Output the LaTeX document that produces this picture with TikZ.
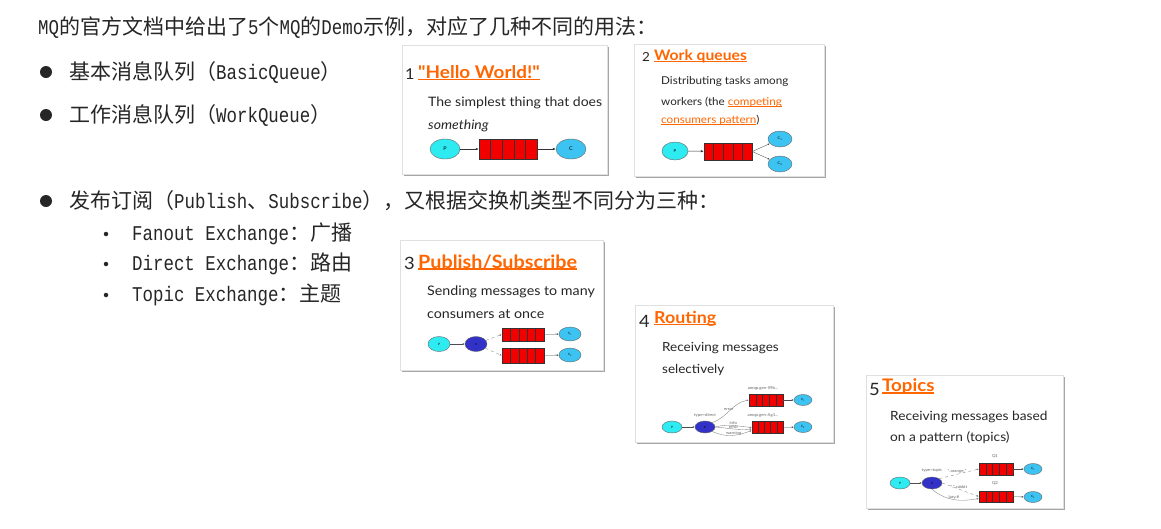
\documentclass[tikz,border=0pt]{standalone}
\usepackage{fontspec}
\usetikzlibrary{shapes.geometric,shadows,arrows.meta,calc}
\newfontfamily\cjk{Noto Sans CJK SC}
\newfontfamily\mono[FakeStretch=0.83]{Liberation Mono}
\newfontfamily\cardf[FakeStretch=1.08]{Lato}
\definecolor{txt}{HTML}{262626}
\definecolor{rmq}{HTML}{FF6600}
\definecolor{pcol}{HTML}{2EEBF2}
\definecolor{ccol}{HTML}{3DC3F2}
\definecolor{xcol}{HTML}{3232C8}
\definecolor{qred}{HTML}{F20000}
\newcommand\M[1]{{\mono#1}}
\newcommand\ul[2][0.8pt]{\setbox0\hbox{#2}\rlap{\rule[-1.6pt]{\wd0}{#1}}\box0}
\begin{document}
\begin{tikzpicture}[x=1pt,y=-1pt,
  maintext/.style={anchor=west, inner sep=0, text=txt, font=\fontsize{21}{25}\selectfont\cjk},
  bul/.style={circle, fill=txt, inner sep=0, minimum size=#1},
  card/.style={draw=black!12, fill=white, anchor=north west, inner sep=0,
    drop shadow={shadow xshift=1.5pt, shadow yshift=-2pt, fill=black, opacity=0.35}},
  num/.style={anchor=west, inner sep=0, text=txt, font=\cardf\fontsize{#1}{#1}\selectfont},
  title/.style={anchor=west, inner sep=0, text=rmq, font=\cardf\bfseries\fontsize{#1}{#1}\selectfont},
  body/.style={anchor=west, inner sep=0, text=txt, font=\cardf\fontsize{#1}{#1}\selectfont},
  pnode/.style={ellipse, draw=black!60, fill=pcol, inner sep=0, line width=0.4pt, font=\cardf\fontsize{#1}{#1}\selectfont},
  cnode/.style={ellipse, draw=black!60, fill=ccol, inner sep=0, line width=0.4pt, font=\cardf\fontsize{#1}{#1}\selectfont},
  xnode/.style={ellipse, draw=black!60, fill=xcol, inner sep=0, line width=0.4pt, font=\cardf\fontsize{#1}{#1}\selectfont},
  queue/.style={draw=black!80, fill=qred, inner sep=0, line width=0.5pt,
    path picture={\foreach \f in {0.2,0.4,0.6,0.8}{\draw[black!80, line width=0.5pt]
      ($(path picture bounding box.north west)!\f!(path picture bounding box.north east)$) --
      ($(path picture bounding box.south west)!\f!(path picture bounding box.south east)$);}}},
  arr/.style={-{Latex[length=3pt,width=2.5pt]}, line width=0.5pt, black!80},
  sarr/.style={-{Latex[length=2pt,width=1.8pt]}, line width=0.35pt, black!70},
  tiny/.style={inner sep=0, text=black!60, font=\cardf\fontsize{4}{4}\selectfont},
]
\useasboundingbox[fill=white] (0,0) rectangle (1161,528);

% main text
\node[maintext] (l0) at (38,28) {\M{MQ}的官方文档中给出了\M{5}个\M{MQ}的\M{Demo}示例，对应了几种不同的用法：};
\node[bul=12] (b1) at (46,72) {};
\node[maintext] (l1) at (69,72) {基本消息队列（\M{BasicQueue}）};
\node[bul=12] (b2) at (46,115) {};
\node[maintext] (l2) at (69,115) {工作消息队列（\M{WorkQueue}）};
\node[bul=12] (b3) at (46,201) {};
\node[maintext] (l3) at (69,201) {发布订阅（\M{Publish}、\M{Subscribe}），又根据交换机类型不同分为三种：};
\node[bul=4.5] (s1) at (106,234) {};
\node[maintext] (l4) at (132,234) {\M{Fanout Exchange}：广播};
\node[bul=4.5] (s2) at (106,264) {};
\node[maintext] (l5) at (132,264) {\M{Direct Exchange}：路由};
\node[bul=4.5] (s3) at (106,295) {};
\node[maintext] (l6) at (132,295) {\M{Topic Exchange}：主题};

% card 1
\node[card, minimum width=205, minimum height=129] (card1) at (402,45) {};
\node[num=15] (n1) at (405,74) {1};
\node[title=17.5] (t1) at (418,73) {\ul[1.2pt]{"Hello World!"}};
\node[body=13] (d1a) at (428,103) {The simplest thing that does};
\node[body=13] (d1b) at (428,126) {\itshape something};
\node[pnode=5, minimum width=30, minimum height=20] (p1) at (445,149) {P};
\node[queue, minimum width=58, minimum height=20] (q1) at (508,149) {};
\node[cnode=5, minimum width=30, minimum height=20] (c1) at (571,149) {C};
\draw[arr] (p1) -- (q1);
\draw[arr] (q1) -- (c1);

% card 2
\node[card, minimum width=190, minimum height=132] (card2) at (634,44) {};
\node[num=12.5] (n2) at (642,57) {2};
\node[title=14.5] (t2) at (654,56) {\ul[1pt]{Work queues}};
\node[body=10.8] (d2a) at (661,82) {Distributing tasks among};
\node[body=10.8] (d2b) at (661,102) {workers (the {\color{rmq}\ul[0.6pt]{competing}}};
\node[body=10.8] (d2c) at (661,120) {{\color{rmq}\ul[0.6pt]{consumers pattern}})};
\node[pnode=4, minimum width=26, minimum height=18] (p2) at (675,151) {P};
\node[queue, minimum width=48, minimum height=17] (q2) at (728,151.5) {};
\node[cnode=3.5, minimum width=24, minimum height=16] (c21) at (780,139) {C\textsubscript{1}};
\node[cnode=3.5, minimum width=24, minimum height=16] (c22) at (780,164) {C\textsubscript{2}};
\draw[arr] (p2) -- (q2);
\draw[sarr] (q2.east) -- (c21);
\draw[sarr] (q2.east) -- (c22);

% card 3
\node[card, minimum width=203, minimum height=130] (card3) at (400,240) {};
\node[num=17] (n3) at (404,263) {3};
\node[title=18.3] (t3) at (418,262) {\ul[1.2pt]{Publish/Subscribe}};
\node[body=13.2] (d3a) at (427,292) {Sending messages to many};
\node[body=13.2] (d3b) at (427,314) {consumers at once};
\node[pnode=3, minimum width=22, minimum height=15] (p3) at (439,344) {P};
\node[xnode=3, minimum width=22, minimum height=15] (x3) at (476,344) {X};
\node[queue, minimum width=42, minimum height=13] (q31) at (523,334.5) {};
\node[queue, minimum width=42, minimum height=15] (q32) at (523,355.5) {};
\node[cnode=3, minimum width=22, minimum height=14] (c31) at (570,334) {C\textsubscript{1}};
\node[cnode=3, minimum width=22, minimum height=14] (c32) at (570,355) {C\textsubscript{2}};
\draw[sarr] (p3) -- (x3);
\draw[sarr, dashed, black!50] (x3) -- (q31.west);
\draw[sarr, dashed, black!50] (x3) -- (q32.west);
\draw[sarr] (q31) -- (c31);
\draw[sarr] (q32) -- (c32);

% card 4
\node[card, minimum width=198, minimum height=137] (card4) at (635,305) {};
\node[num=17] (n4) at (639,321) {4};
\node[title=16.5] (t4) at (654,319) {\ul[1.2pt]{Routing}};
\node[body=12.5] (d4a) at (662,348) {Receiving messages};
\node[body=12.5] (d4b) at (662,370) {selectively};
\node[pnode=3, minimum width=20, minimum height=12] (p4) at (672,427) {P};
\node[xnode=3, minimum width=20, minimum height=12] (x4) at (705,427) {X};
\node[queue, minimum width=34, minimum height=12] (q41) at (766,400) {};
\node[queue, minimum width=31, minimum height=12] (q42) at (767.5,427.5) {};
\node[cnode=3, minimum width=18, minimum height=11] (c41) at (803,400) {C\textsubscript{1}};
\node[cnode=3, minimum width=18, minimum height=11] (c42) at (803,427) {C\textsubscript{2}};
\node[tiny] (a41) at (763,388) {amqp.gen-S9b...};
\node[tiny] (a42) at (763,415) {amqp.gen-Ag1...};
\node[tiny] (ty4) at (705,415) {type=direct};
\draw[sarr] (p4) -- (x4);
\draw[sarr, black!50] (x4.north east) to[out=20, in=190] node[tiny, pos=0.45, above=1pt] (e41) {error} (q41.west);
\draw[sarr, black!50] (x4.east) to[out=15, in=175] node[tiny, pos=0.5, above=0.5pt] (e42) {info} (q42.west);
\draw[sarr, black!50] (x4.east) to[out=-5, in=185] node[tiny, pos=0.5, above=0pt] (e43) {error} ([yshift=-1.5pt]q42.west);
\draw[sarr, black!50] (x4.south east) to[out=-25, in=200] node[tiny, pos=0.55, above=0pt] (e44) {warning} ([yshift=-3pt]q42.west);
\draw[sarr] (q41) -- (c41);
\draw[sarr] (q42) -- (c42);

% card 5
\node[card, minimum width=197, minimum height=133] (card5) at (866,375) {};
\node[num=17] (n5) at (869,389) {5};
\node[title=17.3] (t5) at (882,387) {\ul[1.2pt]{Topics}};
\node[body=12.7] (d5a) at (890,417) {Receiving messages based};
\node[body=12.7] (d5b) at (890,438) {on a pattern (topics)};
\node[pnode=3, minimum width=20, minimum height=12] (p5) at (900,483) {P};
\node[xnode=3, minimum width=20, minimum height=12] (x5) at (932,483) {X};
\node[queue, minimum width=34, minimum height=12] (q51) at (996,469) {};
\node[queue, minimum width=34, minimum height=11] (q52) at (996,496.5) {};
\node[cnode=3, minimum width=18, minimum height=11] (c51) at (1033,469) {C\textsubscript{1}};
\node[cnode=3, minimum width=18, minimum height=11] (c52) at (1033,497) {C\textsubscript{2}};
\node[tiny] (a51) at (995,456) {Q1};
\node[tiny] (a52) at (995,483) {Q2};
\node[tiny] (ty5) at (932,470) {type=topic};
\draw[sarr] (p5) -- (x5);
\draw[sarr, dashed, black!50] (x5.north east) -- node[tiny, pos=0.45, above=0.5pt] (e51) {*.orange.*} (q51.west);
\draw[sarr, dashed, black!50] (x5.east) -- node[tiny, pos=0.45, above=0pt] (e52) {*.*.rabbit} (q52.west);
\draw[sarr, black!50] (x5.south) to[out=-40, in=190] node[tiny, pos=0.5, above=0pt] (e53) {lazy.\#} ([yshift=-2pt]q52.west);
\draw[sarr] (q51) -- (c51);
\draw[sarr] (q52) -- (c52);
\end{tikzpicture}
\end{document}
